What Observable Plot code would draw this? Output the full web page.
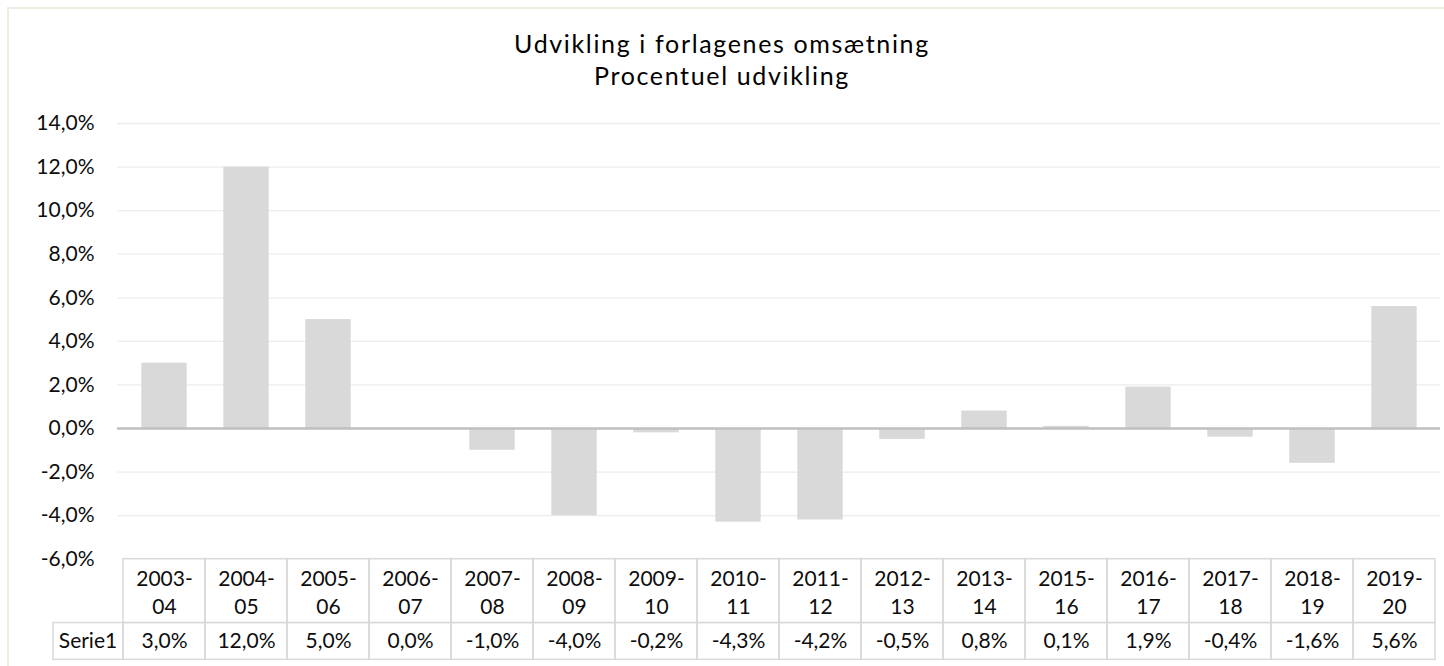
<!DOCTYPE html>
<html>
<head>
<meta charset="utf-8">
<script src="https://cdn.jsdelivr.net/npm/d3@7"></script>
<script src="https://cdn.jsdelivr.net/npm/@observablehq/plot@0.6"></script>
<style>
  body { margin: 0; background: #ffffff; font-family: Lato, "Noto Sans", sans-serif; }
  #wrap { position: relative; width: 1444px; height: 666px; overflow: hidden; background: #fff; }
  #frame { position: absolute; left: 7px; top: 7px; width: 1500px; height: 700px;
           border-top: 2px solid #efece2; border-left: 2px solid #efece2; box-sizing: border-box; }
  #title { position: absolute; left: 0; top: 27px; width: 1444px; text-align: center;
           font-size: 25px; line-height: 32px; color: #000; letter-spacing: 1.65px; }
  #chart { position: absolute; left: 0; top: 100px; }
</style>
</head>
<body>
<div id="wrap">
  <div id="frame"></div>
  <div id="title"><div>Udvikling i forlagenes omsætning</div><div>Procentuel udvikling</div></div>
  <div id="chart"></div>
</div>
<script>
// ---- data ----
const categories = ["2003-04","2004-05","2005-06","2006-07","2007-08","2008-09","2009-10","2010-11",
                    "2011-12","2012-13","2013-14","2015-16","2016-17","2017-18","2018-19","2019-20"];
const headerLabels = ["2003-\n04","2004-\n05","2005-\n06","2006-\n07","2007-\n08","2008-\n09","2009-\n10","2010-\n11",
                      "2011-\n12","2012-\n13","2013-\n14","2015-\n16","2016-\n17","2017-\n18","2018-\n19","2019-\n20"];
const values = [3.0, 12.0, 5.0, 0.0, -1.0, -4.0, -0.2, -4.3, -4.2, -0.5, 0.8, 0.1, 1.9, -0.4, -1.6, 5.6];
const seriesName = "Serie1";
const yTicks = [-6, -4, -2, 0, 2, 4, 6, 8, 10, 12, 14];
const gridTicks = [-4, -2, 2, 4, 6, 8, 10, 12, 14];

// ---- layout ----
const fmt = d => d.toFixed(1).replace(".", ",") + "%";
const tableTop = -6, hdrBottom = -8.93, valBottom = -10.62;
const rows = categories.map((c, i) => ({cat: c, head: headerLabels[i], value: values[i]}));
const cellStroke = "#d9d9d9";
const ink = "#0d0d0d";

function serieCell(index, scales) {
  const x0 = scales.x(categories[0]);
  const yA = scales.y(hdrBottom), yB = scales.y(valBottom);
  const g = d3.create("svg:g");
  g.append("rect").attr("x", x0 - 70).attr("y", yA).attr("width", 70).attr("height", yB - yA)
    .attr("fill", "none").attr("stroke", cellStroke).attr("stroke-width", 1.5);
  g.append("text").attr("x", x0 - 35).attr("y", (yA + yB) / 2).attr("dy", "0.32em")
    .attr("text-anchor", "middle").attr("fill", ink).text(seriesName);
  return g.node();
}

const chart = Plot.plot({
  width: 1444,
  height: 566,
  marginLeft: 117,
  marginRight: 4,
  marginTop: 23,
  marginBottom: 107.3,
  style: {fontFamily: "Lato, 'Noto Sans', sans-serif", fontSize: "21px", color: ink, background: "transparent", overflow: "visible"},
  x: {domain: categories, padding: 0, axis: null},
  y: {domain: [-6, 14], ticks: yTicks, tickFormat: fmt, tickSize: 0, tickPadding: 23, label: null},
  marks: [
    Plot.ruleY(gridTicks, {stroke: "#ececec", strokeWidth: 1.3}),
    Plot.barY(rows, {x: "cat", y: "value", fill: "#d9d9d9", insetLeft: 18.3, insetRight: 18.3}),
    Plot.ruleY([0], {stroke: "#bfbfbf", strokeWidth: 2.5}),
    Plot.barY(rows, {x: "cat", y1: tableTop, y2: hdrBottom, fill: "none", stroke: cellStroke, strokeWidth: 1.5}),
    Plot.barY(rows, {x: "cat", y1: hdrBottom, y2: valBottom, fill: "none", stroke: cellStroke, strokeWidth: 1.5}),
    Plot.text(rows, {x: "cat", y: (tableTop + hdrBottom) / 2, text: "head", lineHeight: 1.33, fill: ink}),
    Plot.text(rows, {x: "cat", y: (hdrBottom + valBottom) / 2, text: d => fmt(d.value), fill: ink}),
    serieCell
  ]
});
document.getElementById("chart").appendChild(chart);
</script>
</body>
</html>
